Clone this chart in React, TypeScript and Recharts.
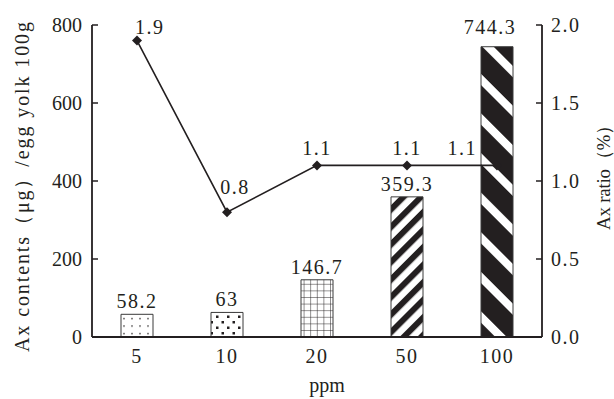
import React from 'react';
import {
  ComposedChart,
  Bar,
  Line,
  XAxis,
  YAxis,
  Cell,
  LabelList,
} from 'recharts';

// ppm dose groups
const doses = ['5', '10', '20', '50', '100'];
// Ax contents (ug) per 100 g egg yolk
const contents = [58.2, 63, 146.7, 359.3, 744.3];
// Ax ratio (%)
const ratios = [1.9, 0.8, 1.1, 1.1, 1.1];

const leftTicks = [0, 200, 400, 600, 800];
const rightTicks = [0, 0.5, 1, 1.5, 2];
const edgeTicks = [1, 2, 3, 4];

const rows = doses.map((d, i) => ({ ppm: d, content: contents[i], ratio: ratios[i] }));

const INK = '#231f20';
const FONT = 'Liberation Serif, DejaVu Serif, serif';
const patternIds = ['pDots', 'pSquares', 'pGrid', 'pThin', 'pWide'];

function Patterns() {
  return (
    <svg width={0} height={0} style={{ position: 'absolute' }}>
      <defs>
        <pattern id="pDots" patternUnits="userSpaceOnUse" width={8} height={7.5}>
          <rect width={8} height={7.5} fill="#fff" />
          <circle cx={4} cy={3.5} r={0.8} fill={INK} />
        </pattern>
        <pattern id="pSquares" patternUnits="userSpaceOnUse" width={11} height={11}>
          <rect width={11} height={11} fill="#fff" />
          <rect x={1.5} y={2} width={2.5} height={2.5} fill={INK} />
          <rect x={7} y={7.5} width={2.5} height={2.5} fill={INK} />
        </pattern>
        <pattern id="pGrid" patternUnits="userSpaceOnUse" width={6.6} height={6.6}>
          <rect width={6.6} height={6.6} fill="#fff" />
          <path d="M0 0H6.6M0 0V6.6" stroke={INK} strokeWidth={1} />
        </pattern>
        <pattern id="pThin" patternUnits="userSpaceOnUse" width={12.4} height={12.4} patternTransform="rotate(45)">
          <rect width={12.4} height={12.4} fill="#fff" />
          <rect width={6} height={12.4} fill={INK} />
        </pattern>
        <pattern id="pWide" patternUnits="userSpaceOnUse" width={28} height={28} patternTransform="rotate(-45)">
          <rect width={28} height={28} fill={INK} />
          <rect width={8} height={28} fill="#fff" />
        </pattern>
      </defs>
    </svg>
  );
}

const Diamond = (props: any) => {
  const { cx, cy } = props;
  if (cx == null || cy == null) return null;
  return <path d={`M${cx} ${cy - 5}L${cx + 5} ${cy}L${cx} ${cy + 5}L${cx - 5} ${cy}Z`} fill={INK} />;
};

const textStyle = { fill: INK, fontSize: 20, fontFamily: FONT, letterSpacing: 1.5 };

const BarValue = (props: any) => {
  const { x, y, width, value, index } = props;
  const last = index === doses.length - 1;
  return (
    <text x={x + width / 2 + (last ? -7 : 0)} y={y - (last ? 13 : 6)} textAnchor="middle" {...textStyle}>
      {value}
    </text>
  );
};

const RatioValue = (props: any) => {
  const { x, y, value, index } = props;
  let dx = 0;
  let dy = -10;
  let anchor = 'middle';
  if (index === 0) {
    dx = -2;
    dy = -7;
    anchor = 'start';
  } else if (index === 1) {
    dx = 8;
    dy = -18;
  } else if (index === doses.length - 1) {
    dx = -20;
    anchor = 'end';
  }
  return (
    <text x={x + dx} y={y + dy} textAnchor={anchor} {...textStyle}>
      {Number(value).toFixed(1)}
    </text>
  );
};

const LeftTitle = (props: any) => {
  const { x, y, height } = props.viewBox;
  const cx = x + 22;
  const cy = y + height / 2 + 6;
  return (
    <text
      x={cx}
      y={cy}
      transform={`rotate(-90 ${cx} ${cy})`}
      textAnchor="middle"
      dominantBaseline="central"
      textLength={330}
      lengthAdjust="spacing"
      fill={INK}
      fontSize={20}
      fontFamily={FONT}
    >
      Ax contents（μg）/egg yolk 100g
    </text>
  );
};

const RightTitle = (props: any) => {
  const { x, y, height } = props.viewBox;
  const cx = x + 61;
  const cy = y + height / 2 - 8;
  return (
    <text
      x={cx}
      y={cy}
      transform={`rotate(-90 ${cx} ${cy})`}
      textAnchor="middle"
      dominantBaseline="central"
      textLength={114}
      lengthAdjust="spacing"
      fill={INK}
      fontSize={19}
      fontFamily={FONT}
    >
      Ax ratio（%）
    </text>
  );
};

export default function App() {
  return (
    <div>
      <style>{'body{margin:0;}'}</style>
      <Patterns />
      <ComposedChart
        width={614}
        height={399}
        data={rows}
        margin={{ top: 25, right: 0, bottom: 0, left: 0 }}
        style={{ fontFamily: FONT }}
      >
        <XAxis
          xAxisId="edge"
          type="number"
          domain={[0, 5]}
          ticks={edgeTicks}
          height={0}
          axisLine={false}
          tick={false}
          tickSize={-6}
          tickLine={{ stroke: INK, strokeWidth: 1.5 }}
        />
        <XAxis
          xAxisId="cat"
          dataKey="ppm"
          height={62}
          tickLine={false}
          axisLine={{ stroke: INK, strokeWidth: 1.8 }}
          tick={textStyle}
          tickMargin={6}
          label={{ value: 'ppm', position: 'insideBottom', offset: 7, dx: 10, ...textStyle, letterSpacing: 0 }}
        />
        <YAxis
          yAxisId="left"
          width={92}
          domain={[0, 800]}
          ticks={leftTicks}
          tickSize={-6}
          tickMargin={16}
          axisLine={{ stroke: INK, strokeWidth: 1.8 }}
          tickLine={{ stroke: INK, strokeWidth: 1.5 }}
          tick={{ ...textStyle, letterSpacing: 0 }}
          label={<LeftTitle />}
        />
        <YAxis
          yAxisId="right"
          orientation="right"
          width={72}
          domain={[0, 2]}
          ticks={rightTicks}
          tickFormatter={(v: number) => v.toFixed(1)}
          tickSize={-6}
          tickMargin={15}
          axisLine={{ stroke: INK, strokeWidth: 1.8 }}
          tickLine={{ stroke: INK, strokeWidth: 1.5 }}
          tick={textStyle}
          label={<RightTitle />}
        />
        <Bar
          xAxisId="cat"
          yAxisId="left"
          dataKey="content"
          barSize={32}
          stroke="#3a3a3a"
          strokeWidth={1}
          isAnimationActive={false}
        >
          {rows.map((r, i) => (
            <Cell key={r.ppm} fill={`url(#${patternIds[i]})`} />
          ))}
          <LabelList dataKey="content" content={<BarValue />} />
        </Bar>
        <Line
          xAxisId="cat"
          yAxisId="right"
          dataKey="ratio"
          stroke={INK}
          strokeWidth={1.6}
          dot={<Diamond />}
          activeDot={false}
          isAnimationActive={false}
        >
          <LabelList dataKey="ratio" content={<RatioValue />} />
        </Line>
      </ComposedChart>
    </div>
  );
}
